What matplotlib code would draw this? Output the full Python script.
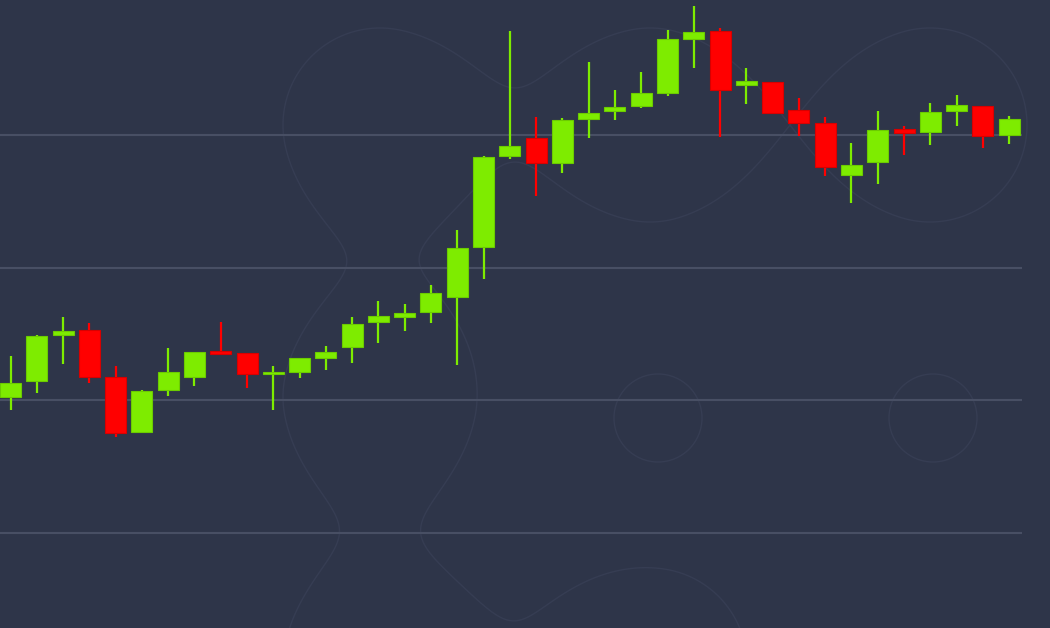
import numpy as np
import matplotlib
matplotlib.use("Agg")
import matplotlib.pyplot as plt

# ── Candle data (OHLC) ────────────────────────────────────────────────────────
opens = [6502.3, 6514.6, 6549.2, 6553.0, 6517.4, 6476.3, 6507.8, 6517.8, 6537.2, 6535.7,
         6519.6, 6521.1, 6532.1, 6540.4, 6559.3, 6562.8, 6566.3, 6578.1, 6615.8, 6684.1,
         6697.5, 6678.6, 6711.8, 6718.3, 6721.8, 6731.6, 6772.6, 6778.4, 6737.7, 6739.7,
         6718.6, 6708.8, 6670.1, 6679.6, 6704.7, 6702.2, 6718.3, 6721.8, 6699.7]
highs = [6533.6, 6549.5, 6562.6, 6558.5, 6525.9, 6507.8, 6539.2, 6536.6, 6558.8, 6535.9,
         6526.1, 6532.0, 6540.9, 6562.6, 6574.6, 6572.6, 6586.9, 6628.4, 6683.8, 6778.1,
         6713.3, 6712.6, 6755.0, 6733.7, 6747.2, 6778.9, 6797.2, 6780.4, 6750.2, 6740.0,
         6727.6, 6713.5, 6693.7, 6717.8, 6707.0, 6724.3, 6729.9, 6722.0, 6714.1]
lows = [6492.7, 6505.7, 6527.1, 6512.8, 6472.1, 6476.3, 6503.5, 6511.0, 6534.2, 6509.5,
        6492.7, 6517.0, 6522.9, 6528.4, 6543.0, 6552.2, 6558.1, 6526.8, 6591.7, 6681.7,
        6654.2, 6671.6, 6697.5, 6711.1, 6720.1, 6729.6, 6750.7, 6698.7, 6723.1, 6716.7,
        6699.0, 6669.3, 6648.9, 6663.3, 6684.9, 6692.7, 6706.8, 6690.4, 6693.4]
closes = [6512.8, 6548.7, 6552.2, 6517.4, 6475.1, 6507.0, 6521.1, 6536.4, 6535.1, 6519.6,
          6521.1, 6531.9, 6536.2, 6557.5, 6563.8, 6566.0, 6580.9, 6614.8, 6683.6, 6691.9,
          6678.6, 6711.3, 6716.6, 6720.9, 6731.4, 6772.3, 6777.8, 6733.7, 6740.7, 6716.9,
          6708.8, 6675.6, 6677.1, 6703.7, 6701.7, 6717.5, 6722.6, 6699.4, 6712.3]
grid_levels = [6400, 6500, 6600, 6700]

# ── Style ─────────────────────────────────────────────────────────────────────
BG = "#2e3549"
GRID = "#484f64"
DECO = "#363d53"
UP, UP_EDGE = "#7eec00", "#6ccc00"
DOWN, DOWN_EDGE = "#ff0000", "#d80000"

W_PX, H_PX = 1050, 628
fig = plt.figure(figsize=(W_PX / 100, H_PX / 100), dpi=100)
fig.patch.set_facecolor(BG)

# Background watermark: circles blended with a smooth union (SDF smin)
bg = fig.add_axes([0, 0, 1, 1])
bg.set_facecolor(BG)
bg.set_xlim(0, W_PX)
bg.set_ylim(H_PX, 0)
bg.axis("off")
gx, gy = np.meshgrid(np.linspace(0, W_PX, 1050), np.linspace(0, H_PX, 628))
R, K = 97.0, 172.0
sdf = None
for cx, cy in [(380, 125), (650, 125), (930, 125), (380, 397), (380, 665), (650, 665)]:
    d = np.hypot(gx - cx, gy - cy) - R
    if sdf is None:
        sdf = d
    else:
        h = np.clip(K - np.abs(sdf - d), 0, None) / K
        sdf = np.minimum(sdf, d) - h * h * K / 4
bg.contour(gx, gy, sdf, levels=[0.0], colors=DECO, linewidths=1.0)
for cx, cy in [(658, 418), (933, 418)]:
    bg.add_patch(plt.Circle((cx, cy), 44, fill=False, ec=DECO, lw=1.0))

# ── Candles ───────────────────────────────────────────────────────────────────
ax = fig.add_axes([0, 0, 1, 1])
ax.set_facecolor("none")
px_per_unit = 26.28
x0 = -10.5 / px_per_unit
ax.set_xlim(x0, x0 + W_PX / px_per_unit)
ax.set_ylim(6328.4, 6801.7)
ax.axis("off")

ax.hlines(grid_levels, x0, x0 + 1022 / px_per_unit, colors=GRID, lw=1.5, zorder=1)

idx = np.arange(len(opens))
for i, o, h, l, c in zip(idx, opens, highs, lows, closes):
    up = c >= o
    col, edge = (UP, UP_EDGE) if up else (DOWN, DOWN_EDGE)
    ax.vlines(i, l, h, colors=col, lw=1.6, zorder=2)
    ax.bar(i, abs(c - o), bottom=min(o, c), width=0.8,
           color=col, edgecolor=edge, linewidth=0.8, zorder=3)

fig.savefig("out.png", dpi=100, facecolor=BG)
